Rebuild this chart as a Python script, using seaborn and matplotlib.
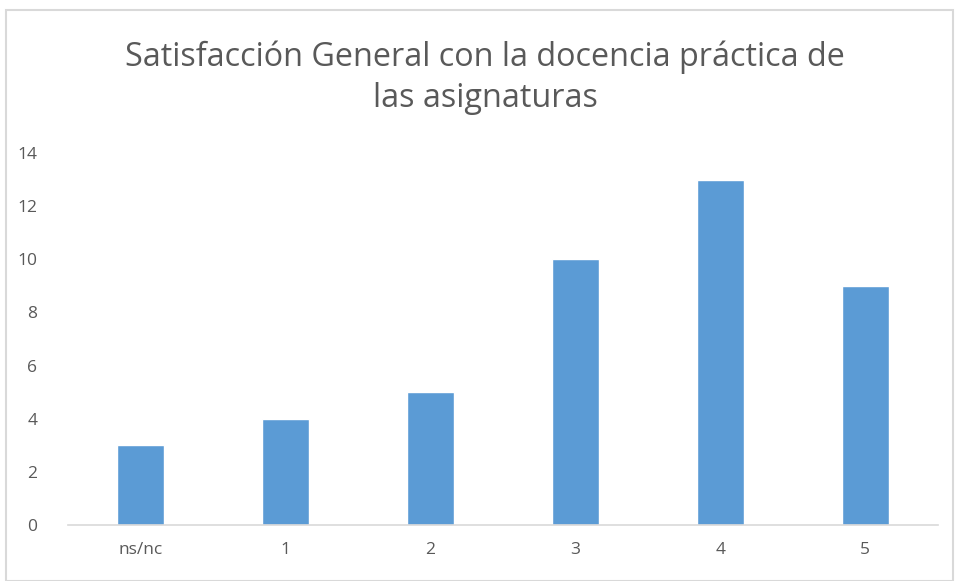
import pandas as pd
import matplotlib.pyplot as plt
import seaborn as sns
from matplotlib.patches import Rectangle

# Data
categories = ["ns/nc", "1", "2", "3", "4", "5"]
counts = [3, 4, 5, 10, 13, 9]

data = pd.DataFrame({"respuesta": categories, "n": counts})

sns.set_theme(style="white")
plt.rcParams['font.family'] = ['Open Sans', 'DejaVu Sans']

fig = plt.figure(figsize=(9.57, 5.81), dpi=100)
ax = fig.add_axes([0.071, 0.0964, 0.909, 0.6403])

sns.barplot(data=data, x="respuesta", y="n", color="#5B9BD5", width=0.32,
            saturation=1, ax=ax)

ax.set_ylim(0, 14)
ax.set_yticks(range(0, 15, 2))
ax.set_xlim(-0.5, 5.5)
ax.set_xlabel("")
ax.set_ylabel("")
for s in ["top", "right", "left"]:
    ax.spines[s].set_visible(False)
ax.spines["bottom"].set_color("#D9D9D9")
ax.spines["bottom"].set_linewidth(1.2)
ax.tick_params(axis="both", length=0, labelsize=12.5, labelcolor="#595959")
ax.tick_params(axis="y", pad=22)
ax.tick_params(axis="x", pad=12)

fig.text(0.507, 0.866, "Satisfacción General con la docencia práctica de\nlas asignaturas",
         ha="center", va="center", fontsize=23.3, color="#595959", linespacing=1.3)

# chart border
fig.patches.append(Rectangle((0.006, 0.0), 0.99, 0.982, transform=fig.transFigure,
                             fill=False, edgecolor="#D9D9D9", linewidth=1.5))

plt.savefig("out.png", dpi=100)
